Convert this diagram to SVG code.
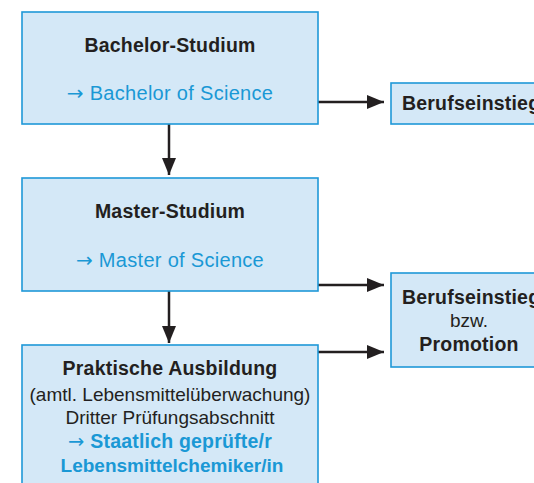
<svg xmlns="http://www.w3.org/2000/svg" width="534" height="483" viewBox="0 0 534 483">
<style>
.box{fill:#d4e8f7;stroke:#1f98d8;stroke-width:1.6}
.t{font-family:"Liberation Sans",Arial,sans-serif;font-size:19px;fill:#231f20;text-anchor:middle}
.b{font-weight:bold;font-size:19.5px;letter-spacing:0.2px}
.bl{fill:#1a98d5}
.big{font-size:20px;letter-spacing:0.3px}
.ar{font-family:"DejaVu Sans",sans-serif;font-weight:normal}
.c{stroke:#231f20;stroke-width:2.5;fill:none}
</style>
<defs>
<marker id="ah" markerUnits="userSpaceOnUse" markerWidth="18" markerHeight="14" viewBox="0 0 18 14" refX="17" refY="7" orient="auto">
<path d="M0,0 L17,7 L0,14 z" fill="#231f20"/>
</marker>
</defs>
<rect width="534" height="483" fill="#fff"/>
<g id="connectors">
<line class="c" x1="169" y1="124" x2="169" y2="175" marker-end="url(#ah)"/>
<line class="c" x1="169" y1="291" x2="169" y2="343" marker-end="url(#ah)"/>
<line class="c" x1="318" y1="102" x2="384" y2="102" marker-end="url(#ah)"/>
<line class="c" x1="318" y1="285" x2="384" y2="285" marker-end="url(#ah)"/>
<line class="c" x1="318" y1="352" x2="384" y2="352" marker-end="url(#ah)"/>
</g>
<g id="bachelor">
<rect class="box" x="22" y="12" width="296" height="112"/>
<text class="t b" x="170" y="52">Bachelor-Studium</text>
<text class="t bl big" x="170" y="100"><tspan class="ar">→</tspan> Bachelor of Science</text>
</g>
<g id="master">
<rect class="box" x="22" y="178" width="296" height="113"/>
<text class="t b" x="170" y="218">Master-Studium</text>
<text class="t bl big" x="170" y="267"><tspan class="ar">→</tspan> Master of Science</text>
</g>
<g id="praktisch">
<rect class="box" x="22" y="345" width="296" height="150"/>
<text class="t b" x="170" y="375">Praktische Ausbildung</text>
<text class="t" x="170" y="401">(amtl. Lebensmittelüberwachung)</text>
<text class="t" x="170" y="424">Dritter Prüfungsabschnitt</text>
<text class="t b bl" x="170" y="448"><tspan class="ar">→</tspan> Staatlich geprüfte/r</text>
<text class="t b bl" x="172" y="472" style="letter-spacing:0;font-size:19px">Lebensmittelchemiker/in</text>
</g>
<g id="beruf1">
<rect class="box" x="391" y="83" width="160" height="41"/>
<text class="t b" x="402" y="110" style="text-anchor:start">Berufseinstieg</text>
</g>
<g id="beruf2">
<rect class="box" x="391" y="273" width="160" height="94"/>
<text class="t b" x="402" y="304" style="text-anchor:start">Berufseinstieg</text>
<text class="t" x="469" y="327">bzw.</text>
<text class="t b" x="469" y="351">Promotion</text>
</g>
</svg>
